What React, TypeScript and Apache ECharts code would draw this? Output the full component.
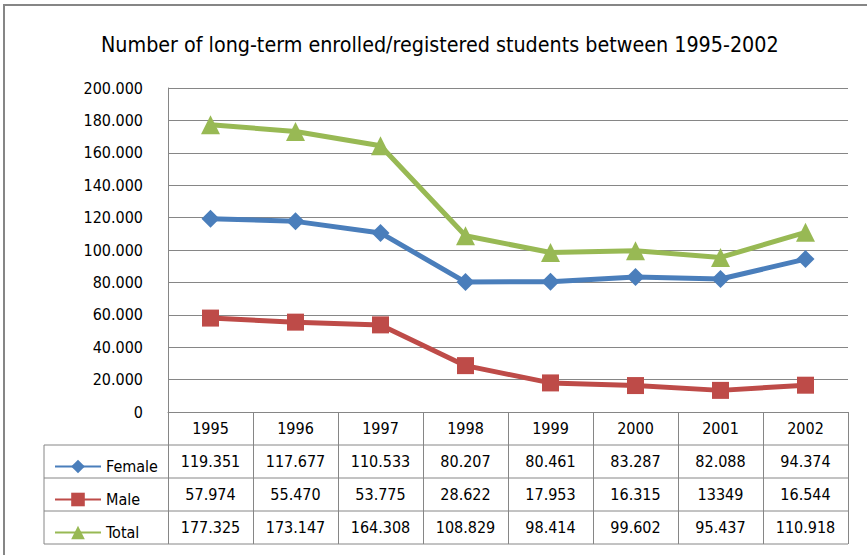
import React, { useEffect, useRef } from "react";
import * as echarts from "echarts";

const years = ["1995", "1996", "1997", "1998", "1999", "2000", "2001", "2002"];
const female = [119.351, 117.677, 110.533, 80.207, 80.461, 83.287, 82.088, 94.374];
const male = [57.974, 55.47, 53.775, 28.622, 17.953, 16.315, 13.349, 16.544];
const total = [177.325, 173.147, 164.308, 108.829, 98.414, 99.602, 95.437, 110.918];
// text shown in the data table where the source printed it differently
const maleShown: Record<number, string> = { 6: "13349" };
const yTicks = { min: 0, max: 200, interval: 20 };
const title = "Number of long-term enrolled/registered students between 1995-2002";

const FONT = "'DejaVu Sans Condensed', sans-serif";
const GRID = "#868686";

export default function App() {
  const ref = useRef<HTMLDivElement>(null);
  useEffect(() => {
    document.body.style.margin = "0";
    const chart = echarts.init(ref.current!, null, { renderer: "svg" });
    const fmt = (v: number) => v.toFixed(3);
    const left = 168, right = 848, top = 88, axisY = 412, rowH = 33;
    const rowLines = [1, 2, 3, 4].map((k) => ({
      type: "line",
      shape: { x1: 44, y1: axisY + rowH * k, x2: right, y2: axisY + rowH * k },
      style: { stroke: GRID, lineWidth: 1 },
      silent: true,
    }));
    chart.setOption({
      animation: false,
      backgroundColor: "#fff",
      title: {
        text: title,
        left: 96,
        top: 29,
        textStyle: { fontFamily: FONT, fontSize: 21.3, fontWeight: "normal", color: "#000" },
      },
      grid: { left, right: 867 - right, top, bottom: 555 - axisY },
      legend: {
        orient: "vertical",
        left: 49,
        top: axisY + rowH + 8,
        itemWidth: 46,
        itemHeight: 17,
        itemGap: rowH - 17,
        textStyle: {
          fontFamily: FONT,
          fontSize: 16,
          color: "#000",
          rich: { r: { height: 17, lineHeight: 17, fontSize: 16, fontFamily: FONT } },
        },
        formatter: (n: string) => `{r|${n}}`,
        data: ["Female", "Male", "Total"],
      },
      xAxis: {
        type: "category",
        data: years,
        boundaryGap: true,
        axisLine: { lineStyle: { color: GRID, width: 1 } },
        axisTick: { show: true, inside: false, length: rowH * 4, lineStyle: { color: GRID } },
        axisLabel: {
          margin: 0,
          interval: 0,
          color: "#000",
          fontFamily: FONT,
          fontSize: 16,
          rich: {
            c: { height: rowH, lineHeight: rowH, fontSize: 16, fontFamily: FONT, color: "#000", align: "center" },
          },
          formatter: (v: string, i: number) =>
            [v, fmt(female[i]), maleShown[i] ?? fmt(male[i]), fmt(total[i])]
              .map((s) => `{c|${s}}`)
              .join("\n"),
        },
      },
      yAxis: {
        type: "value",
        ...yTicks,
        axisLine: { show: true, lineStyle: { color: GRID, width: 1 } },
        axisTick: { show: false },
        splitLine: { lineStyle: { color: GRID, width: 1 } },
        axisLabel: {
          margin: 25,
          fontFamily: FONT,
          fontSize: 16,
          color: "#000",
          formatter: (v: number) => (v === 0 ? "0" : fmt(v)),
        },
      },
      series: [
        {
          name: "Female",
          type: "line",
          data: female,
          color: "#4A7EBB",
          symbol: "diamond",
          symbolSize: 18,
          lineStyle: { width: 5, color: "#4A7EBB" },
          itemStyle: { color: "#4A7EBB" },
        },
        {
          name: "Male",
          type: "line",
          data: male,
          color: "#BE4B48",
          symbol: "rect",
          symbolSize: 17,
          lineStyle: { width: 5, color: "#BE4B48" },
          itemStyle: { color: "#BE4B48" },
        },
        {
          name: "Total",
          type: "line",
          data: total,
          color: "#98B954",
          symbol: "triangle",
          symbolSize: 19,
          lineStyle: { width: 5, color: "#98B954" },
          itemStyle: { color: "#98B954" },
        },
      ],
      graphic: [
        {
          type: "rect",
          shape: { x: 4, y: 5, width: 1000, height: 1000 },
          style: { fill: "none", stroke: GRID, lineWidth: 2 },
          silent: true,
        },
        ...rowLines,
        {
          type: "line",
          shape: { x1: 44, y1: axisY + rowH, x2: 44, y2: axisY + rowH * 4 },
          style: { stroke: GRID, lineWidth: 1 },
          silent: true,
        },
      ],
    });
    return () => chart.dispose();
  }, []);
  return <div ref={ref} style={{ width: 867, height: 555 }} />;
}
